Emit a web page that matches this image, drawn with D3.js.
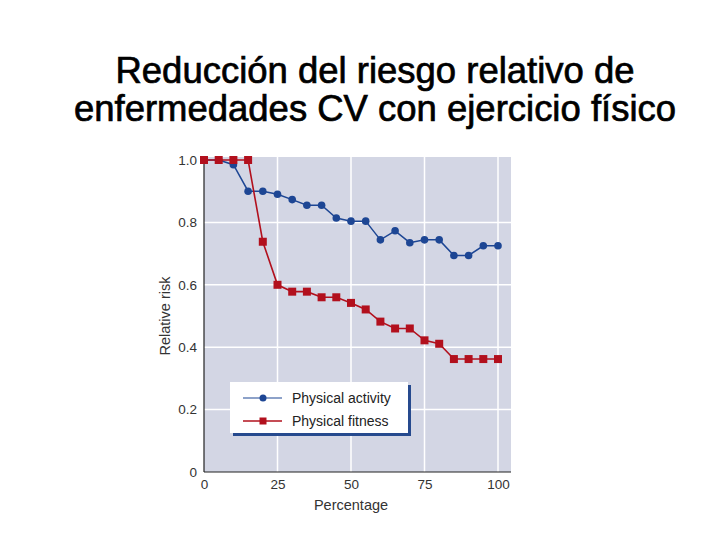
<!DOCTYPE html>
<html><head><meta charset="utf-8">
<script src="https://cdn.jsdelivr.net/npm/d3@7"></script>
<style>body{margin:0;background:#fff;}svg{display:block;font-family:"Liberation Sans",Arial,sans-serif;}</style>
</head><body><svg id="c" width="720" height="540"></svg>
<script>
const titleLines = ["Reducción del riesgo relativo de", "enfermedades CV con ejercicio físico"];
const percentages = [0,5,10,15,20,25,30,35,40,45,50,55,60,65,70,75,80,85,90,95,100];
const activity = [1.0,1.0,0.985,0.90,0.90,0.89,0.873,0.855,0.855,0.814,0.804,0.804,0.744,0.773,0.735,0.744,0.744,0.694,0.694,0.725,0.725];
const fitness  = [1.0,1.0,1.0,1.0,0.738,0.60,0.578,0.578,0.56,0.56,0.542,0.521,0.482,0.46,0.46,0.422,0.411,0.362,0.362,0.362,0.362];
const xTicks = [0,25,50,75,100];
const yTicks = [0,0.2,0.4,0.6,0.8,1.0];
const yTickLabels = ["0","0.2","0.4","0.6","0.8","1.0"];
const seriesNames = ["Physical activity","Physical fitness"];

const svg = d3.select("#c");
const x = d3.scaleLinear().domain([0,100]).range([204,498]);
const y = d3.scaleLinear().domain([0,1]).range([472,160]);
const blue = "#1d4694", red = "#b2101d";

// title
svg.selectAll("text.title").data(titleLines).join("text")
  .attr("class","title")
  .attr("x",375).attr("y",(d,i)=>83+i*38).attr("text-anchor","middle")
  .attr("font-size",36).attr("fill","#000")
  .attr("stroke","#000").attr("stroke-width",0.7)
  .attr("textLength",(d,i)=>[519,602][i]).attr("lengthAdjust","spacingAndGlyphs")
  .text(d=>d);

// plot background
svg.append("rect").attr("x",x(0)).attr("y",157).attr("width",511-x(0)).attr("height",y(0)-157).attr("fill","#d3d6e4");

// gridlines
svg.append("g").selectAll("line").data(xTicks.filter(d=>d>0)).join("line")
  .attr("x1",d=>x(d)).attr("x2",d=>x(d)).attr("y1",157).attr("y2",y(0))
  .attr("stroke","#fff").attr("stroke-width",1.5);
svg.append("g").selectAll("line").data(yTicks.filter(d=>d>0 && d<1)).join("line")
  .attr("x1",x(0)).attr("x2",511).attr("y1",d=>y(d)).attr("y2",d=>y(d))
  .attr("stroke","#fff").attr("stroke-width",1.5);

// axes
const xAxis = d3.axisBottom(x).tickValues(xTicks).tickSize(0).tickPadding(7);
const gx = svg.append("g").attr("transform",`translate(0,${y(0)})`).call(xAxis);
gx.select(".domain").remove();
gx.selectAll("text").attr("font-size",13.5).attr("fill","#333").attr("font-family","Liberation Sans, Arial, sans-serif");
const yAxis = d3.axisLeft(y).tickValues(yTicks).tickFormat((d,i)=>yTickLabels[i]).tickSize(0).tickPadding(7);
const gy = svg.append("g").attr("transform",`translate(${x(0)},0)`).call(yAxis);
gy.select(".domain").remove();
gy.selectAll("text").attr("font-size",13.5).attr("fill","#333").attr("font-family","Liberation Sans, Arial, sans-serif");
svg.append("line").attr("x1",x(0)).attr("x2",x(0)).attr("y1",157).attr("y2",y(0)).attr("stroke","#222").attr("stroke-width",1.2);
svg.append("line").attr("x1",x(0)).attr("x2",511).attr("y1",y(0)).attr("y2",y(0)).attr("stroke","#222").attr("stroke-width",1.2);

svg.append("text").attr("x",351).attr("y",510).attr("text-anchor","middle").attr("font-size",14.5).attr("fill","#333").text("Percentage");
svg.append("text").attr("transform","translate(170,316) rotate(-90)").attr("text-anchor","middle").attr("font-size",14.5).attr("fill","#333").text("Relative risk");

// lines
const line = d3.line().x((d,i)=>x(percentages[i])).y(d=>y(d));
svg.append("path").datum(activity).attr("d",line).attr("fill","none").attr("stroke",blue).attr("stroke-width",1.5);
svg.append("path").datum(fitness).attr("d",line).attr("fill","none").attr("stroke",red).attr("stroke-width",1.6);
svg.append("g").selectAll("circle").data(activity).join("circle")
  .attr("cx",(d,i)=>x(percentages[i])).attr("cy",d=>y(d)).attr("r",3.8).attr("fill",blue);
svg.append("g").selectAll("rect").data(fitness).join("rect")
  .attr("x",(d,i)=>x(percentages[i])-4).attr("y",d=>y(d)-4).attr("width",8).attr("height",8).attr("fill",red);

// legend
const lg = svg.append("g");
lg.append("rect").attr("x",233).attr("y",385).attr("width",178).attr("height",51).attr("fill","#264a8e");
lg.append("rect").attr("x",230).attr("y",382).attr("width",178).attr("height",51).attr("fill","#fff");
const colors = [blue, red];
seriesNames.forEach((n,i)=>{
  const yy = 398 + i*23;
  lg.append("line").attr("x1",243).attr("x2",282).attr("y1",yy).attr("y2",yy).attr("stroke",colors[i]).attr("stroke-width",i?1.6:1.2);
  if(i===0) lg.append("circle").attr("cx",263).attr("cy",yy).attr("r",3.5).attr("fill",blue);
  else lg.append("rect").attr("x",259.5).attr("y",yy-3.5).attr("width",7).attr("height",7).attr("fill",red);
  lg.append("text").attr("x",292).attr("y",yy+5).attr("font-size",14).attr("fill","#222").text(n);
});
</script></body></html>
